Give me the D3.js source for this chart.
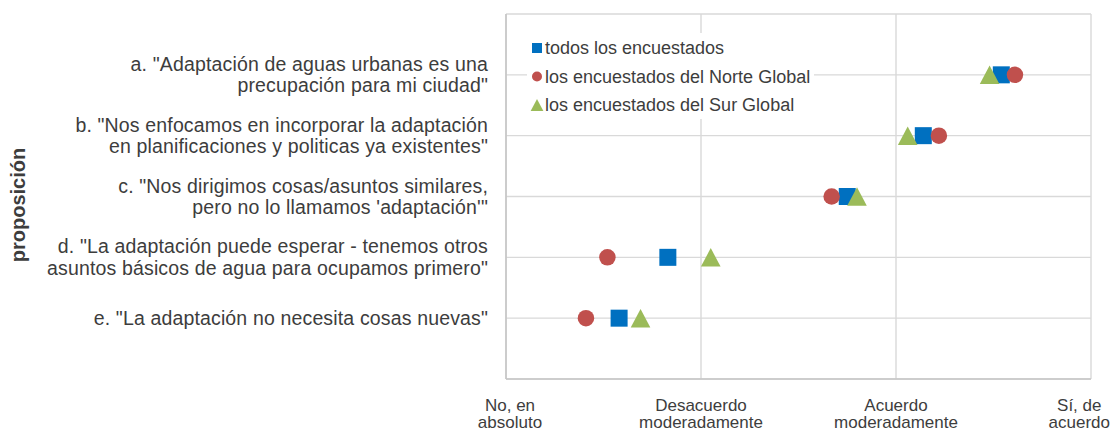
<!DOCTYPE html>
<html>
<head>
<meta charset="utf-8">
<script src="https://cdn.jsdelivr.net/npm/d3@7"></script>
<style>
  body { margin: 0; background: #fff; }
  text { font-family: "Liberation Sans", Arial, sans-serif; fill: #3d3d3d; }
</style>
</head>
<body>
<svg id="chart" width="1112" height="432"></svg>
<script>
// categories (each split in the lines it is shown on)
var categories = [
	['a. "Adaptación de aguas urbanas es una', 'precupación para mi ciudad"'],
	['b. "Nos enfocamos en incorporar la adaptación', 'en planificaciones y politicas ya existentes"'],
	['c. "Nos dirigimos cosas/asuntos similares,', "pero no lo llamamos 'adaptación'\""],
	['d. "La adaptación puede esperar - tenemos otros', 'asuntos básicos de agua para ocupamos primero"'],
	['e. "La adaptación no necesita cosas nuevas"']
];
var todos = [3.54, 3.14, 2.75, 1.83, 1.58];
var norte = [3.61, 3.22, 2.67, 1.52, 1.41];
var sur = [3.48, 3.06, 2.80, 2.05, 1.69];
var seriesNames = ['todos los encuestados', 'los encuestados del Norte Global', 'los encuestados del Sur Global'];
var tickValues = [1, 2, 3, 4];
var tickLabels = [['No, en', 'absoluto'], ['Desacuerdo', 'moderadamente'], ['Acuerdo', 'moderadamente'], ['Sí, de', 'acuerdo']];
var yTitle = 'proposición';

var svg = d3.select('#chart');
var W = 1112;

var x = d3.scaleLinear().domain([1, 4]).range([506, 1091]);
var y = d3.scaleLinear().domain([0, 6]).range([14, 379]);

var colors = ['#0070c0', '#c0504d', '#9bbb59'];

// grid
var grid = svg.append('g');
grid.selectAll('line.v')
	.data(tickValues)
	.enter().append('line')
	.attr('x1', d => x(d)).attr('x2', d => x(d))
	.attr('y1', y(0)).attr('y2', y(6))
	.attr('stroke', '#d9d9d9').attr('stroke-width', 1.4);
grid.selectAll('line.h')
	.data(d3.range(0, 7))
	.enter().append('line')
	.attr('x1', x(1)).attr('x2', x(4))
	.attr('y1', d => y(d)).attr('y2', d => y(d))
	.attr('stroke', '#d9d9d9').attr('stroke-width', 1.4);
// left and bottom axis lines
svg.append('line').attr('x1', x(1)).attr('x2', x(1)).attr('y1', y(0)).attr('y2', y(6))
	.attr('stroke', '#c6c6c6').attr('stroke-width', 1.6);
svg.append('line').attr('x1', x(1)).attr('x2', x(4)).attr('y1', y(6)).attr('y2', y(6))
	.attr('stroke', '#c6c6c6').attr('stroke-width', 1.6);

// category labels
var cat = svg.append('g');
categories.forEach(function(lines, i){
	var cy = y(i + 1);
	var t = cat.append('text')
		.attr('text-anchor', 'end')
		.style('font-size', '19.5px')
		.style('letter-spacing', '0.15px');
	if (lines.length === 1) {
		t.append('tspan').attr('x', 488).attr('y', cy + 7).text(lines[0]);
	} else {
		t.append('tspan').attr('x', 488).attr('y', cy - 4).text(lines[0]);
		t.append('tspan').attr('x', 488).attr('y', cy + 17.5).text(lines[1]);
	}
});

// y title
svg.append('text')
	.attr('transform', 'translate(25,205) rotate(-90)')
	.attr('text-anchor', 'middle')
	.style('font-size', '20px')
	.style('font-weight', 'bold')
	.text(yTitle);

// x tick labels, kept inside the page
tickValues.forEach(function(v, i){
	var t = svg.append('text')
		.attr('text-anchor', 'middle')
		.style('font-size', '17px');
	var s1 = t.append('tspan').attr('x', x(v)).attr('y', 410.5).text(tickLabels[i][0]);
	var s2 = t.append('tspan').attr('x', x(v)).attr('y', 428).text(tickLabels[i][1]);
	var w = Math.max(s1.node().getComputedTextLength(), s2.node().getComputedTextLength());
	var cx = Math.min(Math.max(x(v), w / 2 + 4), W - w / 2 - 2);
	if (i === 0) cx = x(v) + 4;
	s1.attr('x', cx); s2.attr('x', cx);
});

// marker shapes
function square(g, cx, cy, s, c){
	g.append('rect').attr('x', cx - s / 2).attr('y', cy - s / 2).attr('width', s).attr('height', s).attr('fill', c);
}
function circle(g, cx, cy, s, c){
	g.append('circle').attr('cx', cx).attr('cy', cy).attr('r', s / 2).attr('fill', c);
}
function triangle(g, cx, cy, s, c){
	var p = d3.path();
	p.moveTo(cx, cy - s / 2);
	p.lineTo(cx + s * 0.53, cy + s / 2);
	p.lineTo(cx - s * 0.53, cy + s / 2);
	p.closePath();
	g.append('path').attr('d', p.toString()).attr('fill', c);
}
var shapes = [square, circle, triangle];
var sizes = [17, 16.5, 18.5];

var marks = svg.append('g');
[todos, norte, sur].forEach(function(vals, k){
	vals.forEach(function(v, i){
		shapes[k](marks, x(v), y(i + 1), sizes[k], colors[k]);
	});
});

// legend
var leg = svg.append('g');
leg.append('rect').attr('x', 527).attr('y', 33).attr('width', 287).attr('height', 86).attr('fill', '#fff');
var legSizes = [10, 10, 12];
seriesNames.forEach(function(name, k){
	var cy = 48 + k * 28.5;
	shapes[k](leg, 537, cy, legSizes[k], colors[k]);
	leg.append('text').attr('x', 545).attr('y', cy + 6)
		.style('font-size', '18px')
		.text(name);
});
</script>
</body>
</html>
